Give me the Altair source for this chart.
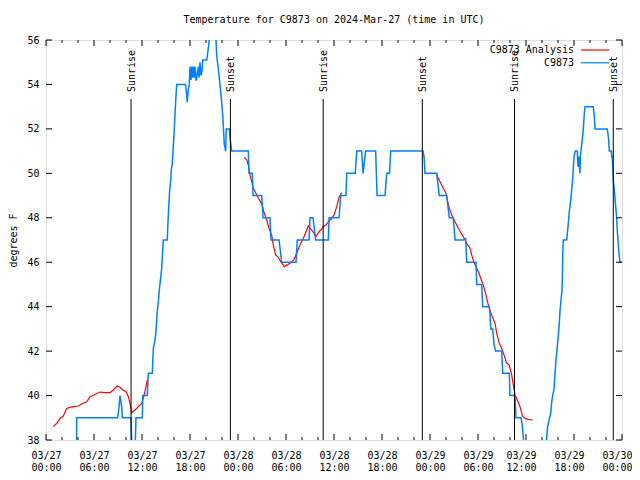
import altair as alt
import pandas as pd

START = pd.Timestamp("2024-03-27T00:00:00Z")
FONT = "DejaVu Sans Mono"

title_text = "Temperature for C9873 on 2024-Mar-27 (time in UTC)"
y_title = "degrees F"
series_names = ["C9873 Analysis", "C9873"]
series_colors = ["#ff0000", "#0080ff"]

# Observations (hours after 2024-03-27 00:00 UTC, degrees F)
obs_hours = [3.81, 3.84, 8.96, 9.13, 9.25, 9.46, 9.54, 10.63, 10.75, 11.13, 11.25, 12.04, 12.1, 12.66, 12.79,
             13.29, 13.41, 13.63, 13.75, 13.91, 14.04, 14.16, 14.34, 14.46, 14.59, 14.66, 15.16, 15.21, 15.34,
             15.46, 15.59, 15.66, 15.79, 15.91, 16.04, 16.13, 16.25, 16.34, 17.44, 17.59, 17.66, 17.79, 17.91,
             18.0, 18.13, 18.21, 18.31, 18.41, 18.53, 18.63, 18.75, 18.81, 18.91, 19.04, 19.13, 19.25, 19.38,
             19.5, 19.59, 20.09, 20.21, 20.41, 20.5, 21.06, 21.25, 21.34, 21.54, 21.75, 21.96, 22.09, 22.21,
             22.29, 22.46, 22.53, 22.91, 23.04, 23.21, 25.29, 25.38, 25.79, 25.88, 26.96, 27.04, 27.13, 28.0,
             28.13, 29.13, 29.46, 31.25, 31.41, 32.88, 33.0, 33.38, 33.71, 35.29, 35.38, 36.63, 36.84, 37.5,
             37.59, 38.66, 38.84, 39.46, 39.63, 39.96, 41.21, 41.38, 42.38, 42.59, 42.94, 43.09, 47.13, 47.25,
             47.38, 48.84, 49.16, 50.09, 50.41, 50.91, 51.13, 52.16, 52.46, 52.59, 53.75, 53.84, 54.46, 54.59,
             55.41, 55.5, 55.59, 55.84, 56.0, 56.21, 56.96, 57.09, 57.91, 58.0, 58.63, 58.75, 59.38, 59.5,
             59.66, 59.81, 62.5, 62.59, 62.71, 62.88, 63.09, 63.21, 63.34, 63.5, 63.63, 63.75, 63.91, 64.04,
             64.16, 64.25, 64.38, 64.5, 64.54, 64.59, 64.66, 65.09, 65.16, 65.29, 65.41, 65.59, 65.71, 65.84,
             65.91, 66.0, 66.16, 66.41, 66.5, 66.59, 66.75, 66.79, 66.96, 67.09, 67.16, 67.29, 67.38, 68.41,
             68.54, 68.63, 70.16, 70.34, 70.41, 70.66, 70.71, 70.79, 70.84, 70.91, 71.04, 71.21, 71.34, 71.41,
             71.54, 71.66, 71.75, 71.94]
obs_temp = [37.5, 39, 39, 39.5, 40, 39.5, 39, 39, 37.5, 37.5, 39, 39, 40, 40, 41,
            41, 42.1, 42.5, 42.9, 43.8, 44.2, 44.75, 45.3, 45.73, 46.55, 47, 47, 47.5, 48.5,
            49.25, 49.7, 50.15, 50.45, 51.2, 52, 52.7, 53.5, 54, 54, 53.5, 53.2, 53.8, 54,
            54.8, 54.2, 54.8, 54.3, 54.8, 54.3, 54.8, 54.2, 54.2, 54.5, 54.8, 54.3, 55, 54.4,
            54.6, 55.1, 55.1, 55.4, 56, 56.6, 56.6, 56, 55.3, 54.7, 54, 53.2, 52.6, 51.8,
            51.3, 51, 52, 52, 51.5, 51, 51, 50, 50, 49, 49, 48.6, 48, 48,
            47, 47, 46, 46, 47, 47, 48, 48, 47, 47, 48, 48, 49, 49,
            50, 50, 51, 51, 50, 51, 51, 49, 49, 50, 50, 51, 51, 50.75,
            50, 50, 49, 49, 48, 48, 47, 47, 47.05, 46, 46, 45, 45, 44,
            44, 43.7, 43, 43, 42.3, 42, 42, 41, 41, 40, 40, 39, 39, 38.75,
            38.15, 37.5, 37.5, 38.15, 38.6, 38.9, 39.2, 39.7, 40, 40.3, 41, 41.6, 42.2, 42.7,
            43.25, 43.8, 44.3, 44.75, 45.2, 46.3, 47, 47, 47.27, 47.75, 48.27, 48.77, 49.25, 49.73,
            50.22, 50.75, 51, 51, 50.3, 50.75, 50, 50.75, 51.27, 51.72, 52, 52.7, 53, 53,
            52.55, 52, 52, 51.5, 51, 51, 50.75, 50.75, 50.3, 49.7, 49.25, 48.5, 47.97, 47.45,
            46.78, 46.25, 46, 46]

# Analysis, three 12-hour segments
ana1_hours = [0.91, 1.34, 1.75, 2.16, 2.59, 3.0, 3.41, 4.04, 4.46, 5.09, 5.5, 6.13, 6.75, 7.38, 8.0,
              8.41, 8.91, 9.25, 9.59, 10.0, 10.29, 10.5, 10.71, 11.13, 11.54, 11.96, 12.25, 12.5, 12.66]
ana1_temp = [38.6, 38.75, 38.97, 39.08, 39.42, 39.47, 39.5, 39.53, 39.62, 39.72, 39.95, 40.05, 40.16, 40.13,
             40.13, 40.25, 40.43, 40.37, 40.25, 40.17, 39.95, 39.65, 39.23, 39.35, 39.5, 39.65, 40.0, 40.4, 40.7]
ana2_hours = [24.79, 25.09, 25.29, 25.5, 25.71, 25.91, 26.13, 26.54, 26.96, 27.29, 27.59, 27.88, 28.21, 28.41,
              28.71, 29.04, 29.38, 29.79, 30.16, 30.59, 31.0, 31.34, 31.75, 32.16, 32.5, 32.79, 33.21, 33.5,
              33.75, 34.04, 34.34, 34.66, 35.0, 35.29, 35.71, 36.0, 36.34, 36.66, 36.96]
ana2_temp = [50.72, 50.6, 50.37, 49.92, 49.63, 49.33, 49.18, 48.88, 48.65, 48.2, 47.9, 47.53, 47.22, 46.78,
             46.33, 46.22, 46.0, 45.8, 45.88, 45.98, 46.13, 46.4, 46.78, 47.07, 47.37, 47.63, 47.45, 47.3,
             47.15, 47.33, 47.45, 47.6, 47.67, 47.82, 47.97, 48.12, 48.5, 48.95, 49.13]
ana3_hours = [48.75, 49.04, 49.34, 49.66, 50.0, 50.21, 50.41, 50.71, 51.13, 51.54, 51.96, 52.29, 52.59, 53.0,
              53.21, 53.5, 53.84, 54.13, 54.38, 54.66, 55.0, 55.29, 55.71, 56.13, 56.34, 56.66, 56.96, 57.25,
              57.59, 57.91, 58.21, 58.41, 58.63, 58.91, 59.25, 59.59, 59.88, 60.29, 60.84]
ana3_temp = [50.0, 49.78, 49.55, 49.33, 49.1, 48.73, 48.43, 48.12, 47.82, 47.53, 47.27, 47.07, 46.85, 46.63,
             46.33, 46.0, 45.73, 45.5, 45.23, 44.97, 44.52, 44.07, 43.62, 43.25, 42.8, 42.35, 42.13, 41.83,
             41.45, 41.37, 40.93, 40.47, 40.02, 39.8, 39.5, 39.05, 38.97, 38.93, 38.9]

sunrise_hours = [10.63, 34.65, 58.56]
sunset_hours = [23.05, 47.04, 70.91]

x_major_hours = [0, 6, 12, 18, 24, 30, 36, 42, 48, 54, 60, 66, 72]
x_minor_hours = [2, 4, 8, 10, 14, 16, 20, 22, 26, 28, 32, 34, 38, 40, 44, 46, 50, 52, 56, 58, 62, 64, 68, 70]
y_tick_values = [38, 40, 42, 44, 46, 48, 50, 52, 54, 56]


def iso(h):
    return (START + pd.Timedelta(hours=h)).strftime("%Y-%m-%dT%H:%M:%SZ")


def dt(h):
    h = int(h)
    return alt.DateTime(year=2024, month=3, date=27 + h // 24, hours=h % 24, utc=True)


W, H = 576, 400

x_scale = alt.Scale(type="utc", domain=[dt(0), dt(72)])
y_scale = alt.Scale(domain=[38, 56], nice=False, zero=False)

obs_df = pd.DataFrame({"time": [iso(h) for h in obs_hours], "temp": obs_temp})
ana_rows = []
for seg, (hs, ts) in enumerate([(ana1_hours, ana1_temp), (ana2_hours, ana2_temp), (ana3_hours, ana3_temp)]):
    for h, t in zip(hs, ts):
        ana_rows.append({"time": iso(h), "temp": t, "seg": seg})
ana_df = pd.DataFrame(ana_rows)

sun_df = pd.DataFrame({
    "time": [iso(h) for h in sunrise_hours] + [iso(h) for h in sunset_hours],
    "label": ["Sunrise"] * len(sunrise_hours) + ["Sunset"] * len(sunset_hours),
})
major_df = pd.DataFrame({"time": [iso(h) for h in x_major_hours]})
minor_df = pd.DataFrame({"time": [iso(h) for h in x_minor_hours]})
ytick_df = pd.DataFrame({"temp": y_tick_values})
title_df = pd.DataFrame({"t": [title_text]})

last_test = "datum.value >= utc(2024, 2, 29, 12)"
x_axis = alt.Axis(
    values=[dt(h) for h in x_major_hours],
    labelExpr="[utcFormat(datum.value, '%m/%d'), utcFormat(datum.value, '%H:%M')]",
    grid=False, domain=False, ticks=False, tickSize=0, labelPadding=10,
    labelFont=FONT, labelFontSize=10, labelColor="black", labelLineHeight=12,
    labelFlush=False, labelOverlap=False, title=None,
    labelAlign={"condition": {"test": last_test, "value": "right"}, "value": "center"},
    labelOffset={"condition": {"test": last_test, "value": 10}, "value": 0},
)
y_axis = alt.Axis(
    values=y_tick_values, grid=False, domain=False, ticks=False, tickSize=0, labelPadding=7,
    labelFont=FONT, labelFontSize=10, labelColor="black",
    title=y_title, titleFont=FONT, titleFontSize=10, titleFontWeight="normal", titleColor="black",
    titleX=-33, titleY=200, titleAngle=270, titleAlign="center", titleBaseline="middle",
)

base_x = alt.X("time:T", scale=x_scale, axis=x_axis)
base_y = alt.Y("temp:Q", scale=y_scale, axis=y_axis)

analysis = alt.Chart(ana_df).mark_line(color=series_colors[0], strokeWidth=1.2, clip=True).encode(
    x=base_x, y=base_y, detail="seg:N",
)
observed = alt.Chart(obs_df).mark_line(color=series_colors[1], strokeWidth=1.5, clip=True).encode(
    x=base_x, y=base_y,
)
sun_rules = alt.Chart(sun_df).mark_rule(color="black", strokeWidth=1).encode(
    x=base_x, y=alt.value(59), y2=alt.value(H),
)
sun_text = alt.Chart(sun_df).mark_text(
    angle=270, align="left", baseline="middle", dy=1, font=FONT, fontSize=10, color="black"
).encode(x=base_x, y=alt.value(52), text="label:N")


def xticks(df, y0, y1):
    return alt.Chart(df).mark_rule(color="black", strokeWidth=1).encode(
        x=base_x, y=alt.value(y0), y2=alt.value(y1))


def yticks(x0, x1):
    return alt.Chart(ytick_df).mark_rule(color="black", strokeWidth=1).encode(
        y=base_y, x=alt.value(x0), x2=alt.value(x1))


ticks = [xticks(major_df, H, H - 6), xticks(major_df, 0, 6),
         xticks(minor_df, H, H - 3), xticks(minor_df, 0, 3),
         yticks(0, 6), yticks(W - 6, W)]

title = alt.Chart(title_df).mark_text(
    font=FONT, fontSize=10, color="black", align="center", baseline="middle"
).encode(x=alt.value(W / 2), y=alt.value(-20), text="t:N")

legend_layers = []
for i, (name, col) in enumerate(zip(series_names, series_colors)):
    yy = 10 + 12.8 * i
    ldf = pd.DataFrame({"name": [name]})
    legend_layers.append(alt.Chart(ldf).mark_text(
        font=FONT, fontSize=10, color="black", align="right", baseline="middle"
    ).encode(x=alt.value(528), y=alt.value(yy), text="name:N"))
    legend_layers.append(alt.Chart(ldf).mark_rule(color=col, strokeWidth=1.2).encode(
        x=alt.value(535), x2=alt.value(563), y=alt.value(yy)))

chart = alt.layer(analysis, observed, *ticks, sun_rules, sun_text, title, *legend_layers).properties(
    width=W, height=H,
    autosize=alt.AutoSizeParams(type="none"),
    padding={"left": 38, "top": 32, "right": 10, "bottom": 36},
).configure_view(stroke="black", strokeWidth=1).configure(background="white")

chart.save("out.html", embed_options={"renderer": "svg", "actions": False})
